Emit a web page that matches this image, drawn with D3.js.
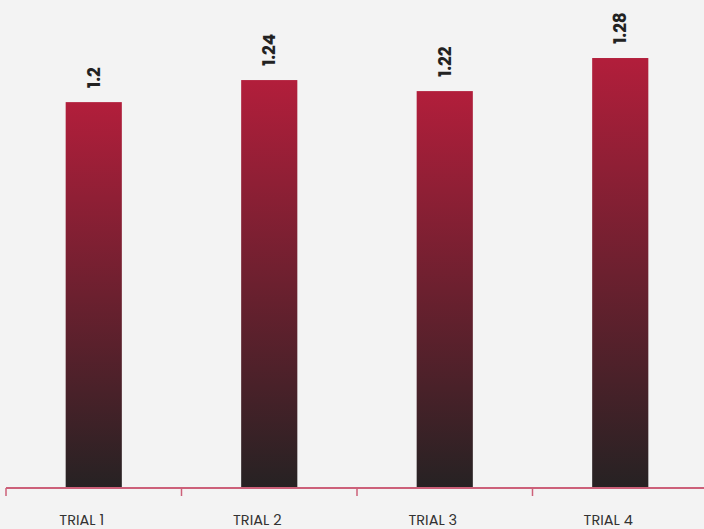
<!DOCTYPE html>
<html lang="en">
<head>
<meta charset="UTF-8">
<title>Trials</title>
<script src="https://d3js.org/d3.v7.min.js"></script>
<style>
    body { margin: 0; background: #f3f3f3; }
    .value { font-family: "Poppins", "Inter", "Open Sans", sans-serif; font-weight: 700; font-size: 17px; fill: #222; }
    .tick text { font-family: "Poppins", "Open Sans", sans-serif; font-size: 14.5px; fill: #333; }
</style>
</head>
<body>
<svg width="704" height="529"></svg>
<script>
    const categories = ["TRIAL 1", "TRIAL 2", "TRIAL 3", "TRIAL 4"];
    const values = [1.2, 1.24, 1.22, 1.28];

    const svg = d3.select("svg");
    const baseY = 488;

    const x = d3.scaleBand().domain(categories).range([6, 708]);
    const y = d3.scaleLinear().domain([0.5, 1.3]).range([baseY, 47]);
    const barW = x.bandwidth() * 0.32;

    const grad = svg.append("defs").append("linearGradient")
        .attr("id", "barGrad")
        .attr("x1", 0).attr("y1", 0).attr("x2", 0).attr("y2", 1);
    grad.append("stop").attr("offset", "0%").attr("stop-color", "#b21e3b");
    grad.append("stop").attr("offset", "100%").attr("stop-color", "#262223");

    svg.selectAll(".bar")
        .data(values)
        .join("rect")
        .attr("class", "bar")
        .attr("x", (d, i) => x(categories[i]) + (x.bandwidth() - barW) / 2)
        .attr("y", d => y(d))
        .attr("width", barW)
        .attr("height", d => baseY - y(d))
        .attr("fill", "url(#barGrad)");

    svg.selectAll(".value")
        .data(values)
        .join("text")
        .attr("class", "value")
        .attr("transform", (d, i) => `translate(${x(categories[i]) + x.bandwidth() / 2},${y(d) - 14}) rotate(-90)`)
        .attr("dy", "0.35em")
        .text(d => d);

    // bottom axis: ticks sit at band edges
    const axis = svg.append("g").attr("transform", `translate(0,${baseY})`);
    axis.append("line")
        .attr("x1", 6).attr("x2", 704)
        .attr("stroke", "#cc6079").attr("stroke-width", 2);
    axis.selectAll(".edge")
        .data(categories)
        .join("line")
        .attr("x1", d => x(d)).attr("x2", d => x(d))
        .attr("y1", 0).attr("y2", 8)
        .attr("stroke", "#cc6079").attr("stroke-width", 1.5);
    // labels sit a little left of the bar centres
    axis.selectAll(".tick")
        .data(categories)
        .join("g")
        .attr("class", "tick")
        .append("text")
        .attr("x", d => x(d) + x.bandwidth() / 2 - 12)
        .attr("y", 37)
        .attr("text-anchor", "middle")
        .text(d => d);
</script>
</body>
</html>
